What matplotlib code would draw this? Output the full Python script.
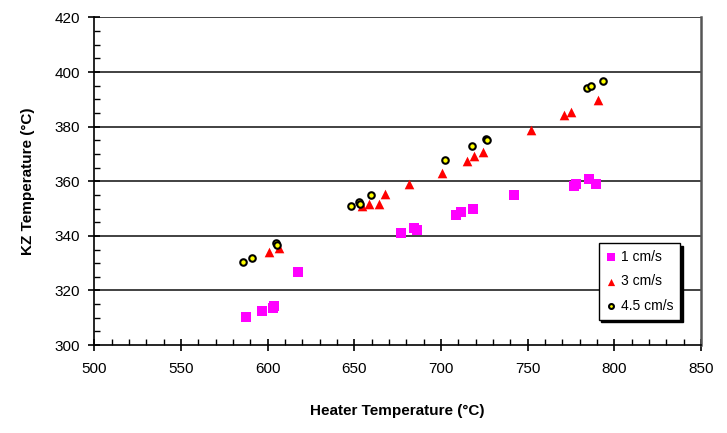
import matplotlib.pyplot as plt
from matplotlib.ticker import MultipleLocator

plt.rcParams['font.family'] = ['Liberation Sans', 'DejaVu Sans']

# 1 cm/s
heater_1 = [587.6, 596.8, 603.0, 603.8, 617.5, 676.9, 684.5, 685.9, 708.4, 711.5, 718.6, 742.2,
            776.6, 777.8, 785.3, 789.3]
kz_1 = [310.3, 312.5, 313.6, 314.3, 326.8, 341.0, 342.8, 342.2, 347.7, 348.9, 349.9, 354.8,
        358.3, 359.1, 360.9, 359.1]

# 3 cm/s
heater_3 = [600.9, 606.7, 654.5, 658.5, 664.4, 667.6, 681.7, 700.5, 715.1, 719.0, 724.3,
            751.8, 770.9, 775.0, 790.7]
kz_3 = [334.1, 335.6, 351.0, 351.7, 351.7, 355.4, 359.1, 363.2, 367.6, 369.1, 370.6,
        378.9, 384.4, 385.5, 389.9]

# 4.5 cm/s
heater_45 = [585.8, 591.0, 604.7, 605.5, 648.0, 652.6, 653.2, 659.6, 702.4, 718.0, 726.0, 726.6,
             784.0, 786.3, 793.5]
kz_45 = [330.5, 331.9, 337.4, 336.8, 351.0, 352.3, 351.7, 354.8, 367.9, 373.0, 375.6, 375.0,
         394.2, 394.8, 396.9]

fig = plt.figure(figsize=(7.27, 4.33), dpi=100)
ax = fig.add_axes([0.1297, 0.203, 0.8345, 0.7566])

ax.scatter(heater_1, kz_1, marker='s', s=48, color='#FF00FF', linewidths=0, label='1 cm/s', zorder=3)
ax.scatter(heater_3, kz_3, marker='^', s=48, color='#FF0000', linewidths=0, label='3 cm/s', zorder=3)
ax.scatter(heater_45, kz_45, marker='o', s=22, color='#FFFF00', edgecolors='black', linewidths=1.5,
           label='4.5 cm/s', zorder=4)

ax.set_xlim(500, 850)
ax.set_ylim(300, 420)
ax.xaxis.set_major_locator(MultipleLocator(50))
ax.xaxis.set_minor_locator(MultipleLocator(10))
ax.yaxis.set_major_locator(MultipleLocator(20))
ax.yaxis.set_minor_locator(MultipleLocator(5))

for y in range(320, 421, 20):
    ax.axhline(y, color='#333333', linewidth=1.3, zorder=1)

ax.spines['top'].set_visible(False)
ax.spines['right'].set_color('#555555')
ax.spines['right'].set_linewidth(1.8)
ax.spines['left'].set_linewidth(1.2)
ax.spines['bottom'].set_linewidth(1.2)

ax.tick_params(axis='x', which='major', direction='inout', length=8, width=1.2, labelsize=11, pad=8)
ax.tick_params(axis='x', which='minor', direction='in', length=4, width=1.0)
ax.tick_params(axis='y', which='major', direction='inout', length=8, width=1.2, labelsize=11, pad=6)
ax.tick_params(axis='y', which='minor', direction='in', length=4, width=1.0)

ax.set_xlabel('Heater Temperature (°C)', fontsize=11, fontweight='bold', labelpad=20)
ax.set_ylabel('KZ Temperature (°C)', fontsize=11, fontweight='bold', labelpad=14)

leg = ax.legend(loc='lower right', bbox_to_anchor=(0.966, 0.078), fontsize=10, frameon=True,
                fancybox=False, shadow={'color': 'black', 'alpha': 1}, edgecolor='black',
                handletextpad=0.3, borderpad=0.5, labelspacing=0.75, handlelength=0.8,
                borderaxespad=0, scatterpoints=1, markerscale=0.75)
leg.get_frame().set_linewidth(1.0)

plt.savefig('out.png', dpi=100)
